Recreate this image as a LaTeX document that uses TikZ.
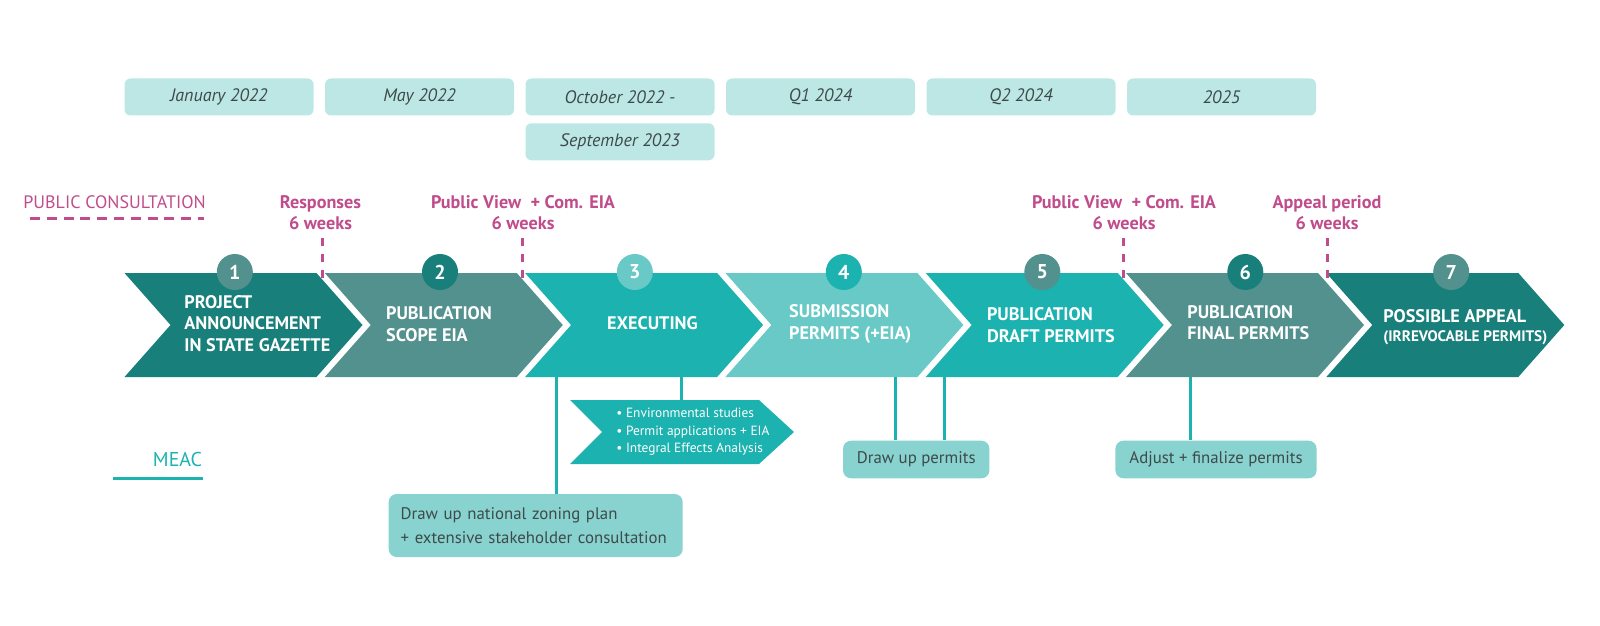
\documentclass[tikz,border=0pt]{standalone}
\usepackage{fontspec}
\setmainfont{PT Sans}
\definecolor{dteal}{HTML}{187F7A}
\definecolor{gteal}{HTML}{53918E}
\definecolor{mteal}{HTML}{1BB2AF}
\definecolor{lteal}{HTML}{68C9C6}
\definecolor{boxfill}{HTML}{88D2CF}
\definecolor{datefill}{HTML}{BCE7E5}
\definecolor{magent}{HTML}{C04C8B}
\definecolor{txtgrey}{HTML}{3E4A4A}
\newcommand\chev[2]{\fill[#2] (#1,273) -- ++(192,0) -- ++(46,52) -- ++(-46,52) -- ++(-192,0) -- ++(46,-52) -- cycle;}
\begin{document}
\begin{tikzpicture}[x=0.5pt,y=-0.5pt,
  datebox/.style={fill=datefill, rounded corners=3pt, minimum width=94.5pt, minimum height=18.5pt, inner sep=0pt, text=txtgrey, font=\itshape\fontsize{9}{10}\selectfont},
  badge/.style={circle, minimum size=18pt, inner sep=0pt, text=white, font=\bfseries\fontsize{10}{11}\selectfont},
  chevtext/.style={anchor=west, align=left, text=white, inner sep=0pt, font=\bfseries\fontsize{9.1}{10.75}\selectfont},
  maglabel/.style={align=center, text=magent, inner sep=0pt, font=\bfseries\fontsize{9.1}{10.8}\selectfont},
  magdash/.style={draw=magent, line width=1.5pt, dash pattern=on 4pt off 4pt},
  conn/.style={draw=mteal, line width=1.5pt},
  botbox/.style={fill=boxfill, rounded corners=4pt, text=txtgrey, inner sep=0pt, font=\fontsize{8.4}{11.7}\selectfont}
]
\useasboundingbox (0,0) rectangle (1600,626);

% date boxes
\node[datebox] (d1) at (219,97) {January 2022};
\node[datebox] (d2) at (419.5,97) {May 2022};
\node[datebox] (d3) at (620,97) {October 2022 -};
\node[datebox] (d3b) at (620,141.8) {September 2023};
\node[datebox] (d4) at (820.5,97) {Q1 2024};
\node[datebox] (d5) at (1021,97) {Q2 2024};
\node[datebox] (d6) at (1221.5,97) {2025};

% public consultation legend
\node[anchor=west, text=magent, inner sep=0pt, font=\fontsize{9}{10}\selectfont] (pc) at (23,201.7) {PUBLIC CONSULTATION};
\coordinate (pcl) at (30,218.3);
\coordinate (pcr) at (204,218.3);
\draw[draw=magent, line width=1.7pt, dash pattern=on 5pt off 3.4pt] (pcl) -- (pcr);

% magenta labels
\node[maglabel] (m1) at (320.5,212.5) {Responses\\6 weeks};
\node[maglabel] (m2) at (523,212.5) {Public View~ + Com. EIA\\6 weeks};
\node[maglabel] (m3) at (1124,212.5) {Public View~ + Com. EIA\\6 weeks};
\node[maglabel] (m4) at (1327,212.5) {Appeal period\\6 weeks};

% chevrons
\chev{124.5}{dteal}
\chev{324.8}{gteal}
\chev{525.1}{mteal}
\chev{725.4}{lteal}
\chev{925.7}{mteal}
\chev{1126}{gteal}
\chev{1326.3}{dteal}

% dashed period markers
\coordinate (v1a) at (322,238); \coordinate (v1b) at (322,283);
\coordinate (v2a) at (522,238); \coordinate (v2b) at (522,283);
\coordinate (v3a) at (1123,238); \coordinate (v3b) at (1123,283);
\coordinate (v4a) at (1327,238); \coordinate (v4b) at (1327,283);
\draw[magdash] (v1a) -- (v1b);
\draw[magdash] (v2a) -- (v2b);
\draw[magdash] (v3a) -- (v3b);
\draw[magdash] (v4a) -- (v4b);

% badges
\node[badge, fill=gteal] (b1) at (234.8,272) {1};
\node[badge, fill=dteal] (b2) at (440,272) {2};
\node[badge, fill=lteal] (b3) at (634.8,272) {3};
\node[badge, fill=mteal] (b4) at (843.8,272) {4};
\node[badge, fill=gteal] (b5) at (1042.3,272) {5};
\node[badge, fill=dteal] (b6) at (1245.3,272) {6};
\node[badge, fill=gteal] (b7) at (1451.2,272) {7};

% chevron texts
\node[chevtext] (t1) at (184,323.5) {PROJECT\\ANNOUNCEMENT\\IN STATE GAZETTE};
\node[chevtext] (t2) at (385.7,324) {PUBLICATION\\SCOPE EIA};
\node[chevtext] (t3) at (606.7,323.3) {EXECUTING};
\node[chevtext] (t4) at (788.8,324) {SUBMISSION\\PERMITS (+EIA)};
\node[chevtext] (t5) at (986.6,325) {PUBLICATION\\DRAFT PERMITS};
\node[chevtext] (t6) at (1187,322.5) {PUBLICATION\\FINAL PERMITS};
\node[chevtext, font=\bfseries\fontsize{9.1}{9.5}\selectfont] (t7) at (1383,327.5) {POSSIBLE APPEAL\\{\fontsize{7.6}{8}\selectfont (IRREVOCABLE PERMITS)}};

% sub chevron
\fill[mteal] (570,400) -- (759,400) -- (794,432) -- (759,464) -- (570,464) -- (602,432) -- cycle;
\node[anchor=west, align=left, text=white, inner sep=0pt, font=\fontsize{6.7}{8.75}\selectfont] (sub) at (616,432) {\textbullet\ Environmental studies\\\textbullet\ Permit applications + EIA\\\textbullet\ Integral Effects Analysis};

% bottom boxes
\node[botbox, text width=135pt, align=left, minimum height=31.5pt, inner xsep=6pt] (zone) at (535.7,525.5) {Draw up national zoning plan\\+ extensive stakeholder consultation};
\node[botbox, minimum width=73.2pt, minimum height=18.8pt] (dup) at (916.2,459.5) {Draw up permits};
\node[botbox, minimum width=100.6pt, minimum height=18.8pt] (adj) at (1216,459.5) {Adjust + finalize permits};

% connectors
\coordinate (c3a) at (556,377);
\coordinate (c3b) at (681.6,377);
\coordinate (c3s) at (681.6,400);
\coordinate (c4) at (895.7,377);
\coordinate (c5) at (944.3,377);
\coordinate (c6) at (1190.4,377);
\draw[conn] (c3a) -- (c3a |- zone.north);
\draw[conn] (c3b) -- (c3s);
\draw[conn] (c4) -- (c4 |- dup.north);
\draw[conn] (c5) -- (c5 |- dup.north);
\draw[conn] (c6) -- (c6 |- adj.north);

% MEAC legend
\node[anchor=east, text=mteal, inner sep=0pt, font=\fontsize{10}{11}\selectfont] (meac) at (202.5,459.3) {MEAC};
\coordinate (ml) at (113,478);
\coordinate (mr) at (202.5,478);
\draw[conn] (ml) -- (mr);
\end{tikzpicture}
\end{document}
